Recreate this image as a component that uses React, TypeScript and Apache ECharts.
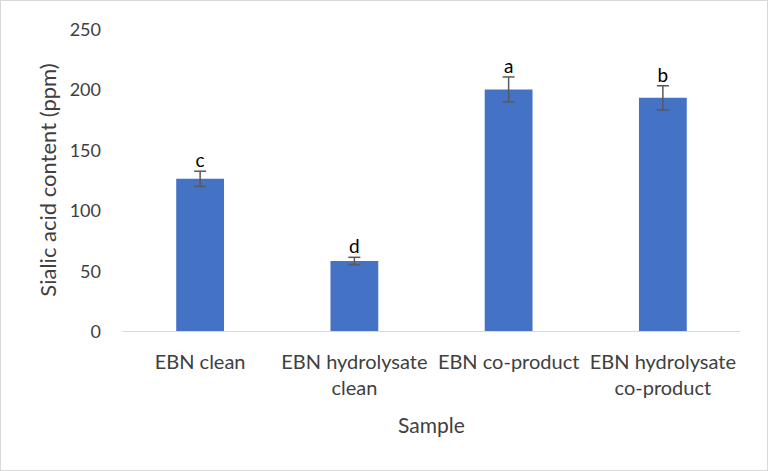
import React, { useEffect, useRef } from "react";
import * as echarts from "echarts";

const categories = ["EBN clean", "EBN hydrolysate\nclean", "EBN co-product", "EBN hydrolysate\nco-product"];
const values = [126, 58, 200, 193];
const errors = [6.3, 3, 10.3, 10];
const letters = ["c", "d", "a", "b"];
const yTicks = { min: 0, max: 250, interval: 50 };

const FONT = "Lato, 'Open Sans', sans-serif";

export default function App() {
  const ref = useRef<HTMLDivElement>(null);
  useEffect(() => {
    if (!ref.current) return;
    const chart = echarts.init(ref.current, undefined, { renderer: "svg" });
    const errData = values.map((v, i) => [i, v - errors[i], v + errors[i], letters[i]]);
    chart.setOption({
      animation: false,
      grid: { left: 122, right: 27, top: 28, bottom: 139, containLabel: false },
      xAxis: {
        type: "category",
        data: categories,
        name: "Sample",
        nameLocation: "middle",
        nameGap: 83,
        nameTextStyle: { fontFamily: FONT, fontSize: 21, color: "#404040" },
        axisLine: { show: true, lineStyle: { color: "#d9d9d9", width: 1 } },
        axisTick: { show: false },
        axisLabel: { fontFamily: FONT, fontSize: 20, color: "#404040", margin: 17, lineHeight: 26, interval: 0 },
      },
      yAxis: {
        type: "value",
        min: yTicks.min,
        max: yTicks.max,
        interval: yTicks.interval,
        name: "Sialic acid content (ppm)",
        nameLocation: "middle",
        nameGap: 64,
        nameTextStyle: { fontFamily: FONT, fontSize: 22, color: "#404040" },
        axisLine: { show: false },
        axisTick: { show: false },
        splitLine: { show: false },
        axisLabel: { fontFamily: FONT, fontSize: 18, color: "#404040", margin: 22 },
      },
      series: [
        {
          type: "bar",
          data: values,
          barWidth: "31%",
          itemStyle: { color: "#4472C4" },
        },
        {
          type: "custom",
          data: errData,
          z: 10,
          renderItem: (params: any, api: any) => {
            const x = api.coord([api.value(0), 0])[0];
            const lo = api.coord([api.value(0), api.value(1)])[1];
            const hi = api.coord([api.value(0), api.value(2)])[1];
            const hw = 6;
            const st = { stroke: "#595959", lineWidth: 1.5 };
            return {
              type: "group",
              children: [
                { type: "line", shape: { x1: x, y1: lo, x2: x, y2: hi }, style: st },
                { type: "line", shape: { x1: x - hw, y1: lo, x2: x + hw, y2: lo }, style: st },
                { type: "line", shape: { x1: x - hw, y1: hi, x2: x + hw, y2: hi }, style: st },
                {
                  type: "text",
                  x: x,
                  y: hi - 2,
                  style: {
                    text: String(api.value(3)),
                    textAlign: "center",
                    textVerticalAlign: "bottom",
                    fontFamily: FONT,
                    fontSize: 19,
                    fontWeight: "normal",
                    fill: "#000",
                  },
                },
              ],
            };
          },
        },
      ],
    });
    return () => chart.dispose();
  }, []);
  return (
    <div
      ref={ref}
      style={{
        position: "fixed",
        left: 0,
        top: 0,
        width: 768,
        height: 471,
        boxSizing: "border-box",
        border: "1px solid #d9d9d9",
        background: "#fff",
      }}
    />
  );
}
